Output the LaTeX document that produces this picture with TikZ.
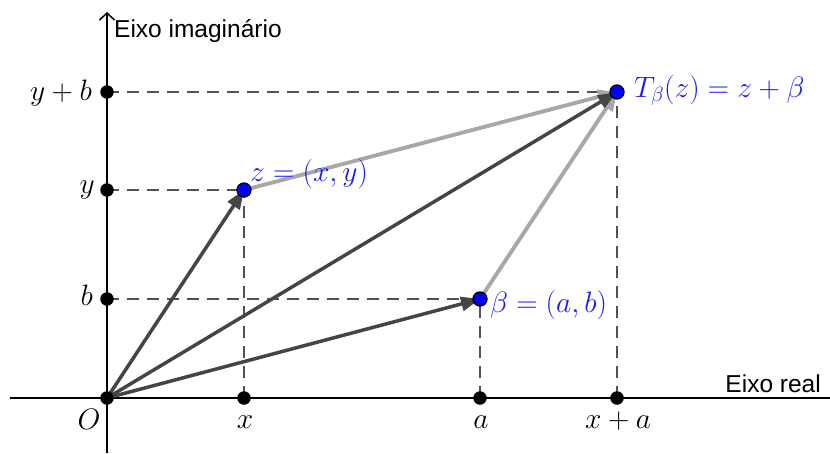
\RequirePackage{fix-cm}
\documentclass[tikz,border=0pt]{standalone}
\usepackage{fontspec}
\newfontfamily\axisfont{Liberation Sans}
\usetikzlibrary{arrows.meta}
\definecolor{ptblue}{RGB}{0,0,255}
\definecolor{lblblue}{RGB}{30,30,235}
\begin{document}
\begin{tikzpicture}[x=1pt,y=-1pt,
  axisline/.style={line width=1.7pt,draw=black},
  guide/.style={line width=1.9pt,draw=black!68,dash pattern=on 12pt off 8pt},
  vecdark/.style={line width=3.5pt,draw=black!73,-{Triangle[length=19pt,width=14pt]}},
  veclight/.style={line width=3.9pt,draw=black!34,-{Triangle[length=19pt,width=14pt]}},
  dot/.style={circle,fill=black,inner sep=0pt,minimum size=13.5pt},
  bdot/.style={circle,fill=ptblue,draw=black,line width=1.3pt,inner sep=0pt,minimum size=14pt},
  mlbl/.style={inner sep=0pt,font=\fontsize{29.5}{34}\selectfont},
  blbl/.style={mlbl,text=lblblue},
  axlbl/.style={inner sep=0pt,font=\axisfont\fontsize{24.5}{28}\selectfont}]
\useasboundingbox (0,0) rectangle (830,453);
% positions
\coordinate (pO) at (107,398);
\coordinate (px) at (244,398);
\coordinate (pa) at (480,398);
\coordinate (pxa) at (617,398);
\coordinate (py) at (107,190);
\coordinate (pb) at (107,299);
\coordinate (pyb) at (107,92);
\coordinate (pz) at (244,190);
\coordinate (pbeta) at (480,299);
\coordinate (pT) at (617,92);
\coordinate (xl) at (10,398);
\coordinate (xr) at (838,398);
\coordinate (yb) at (107,453);
\coordinate (yt) at (107,12);
% axes
\draw[axisline] (xl) -- (xr);
\draw[axisline,-{Straight Barb[length=7pt,width=15pt,line width=1.5pt]}] (yb) -- (yt);
% guides
\draw[guide] (pyb) -- (pT);
\draw[guide] (py) -- (pz);
\draw[guide] (pb) -- (pbeta);
\draw[guide] (px) -- (pz);
\draw[guide] (pa) -- (pbeta);
\draw[guide] (pxa) -- (pT);
% vectors
\draw[veclight] (pz) -- (pT);
\draw[veclight] (pbeta) -- (pT);
\draw[vecdark] (pO) -- (pz);
\draw[vecdark] (pO) -- (pT);
\draw[vecdark] (pO) -- (pbeta);
% points
\node[dot] (O) at (pO) {};
\node[dot] (X) at (px) {};
\node[dot] (A) at (pa) {};
\node[dot] (XA) at (pxa) {};
\node[dot] (Y) at (py) {};
\node[dot] (B) at (pb) {};
\node[dot] (YB) at (pyb) {};
\node[bdot] (Z) at (pz) {};
\node[bdot] (Beta) at (pbeta) {};
\node[bdot] (T) at (pT) {};
% labels
\node[axlbl,anchor=west] (lim) at (114,31) {Eixo imaginário};
\node[axlbl,anchor=east] (lre) at (821,384) {Eixo real};
\node[mlbl,anchor=base] (lO) at (89,429) {$O$};
\node[mlbl,anchor=base] (lx) at (245,428) {$x$};
\node[mlbl,anchor=base] (la) at (481,428) {$a$};
\node[mlbl,anchor=base] (lxa) at (618,428) {$x+a$};
\node[mlbl,anchor=base east] (lyb) at (92,100) {$y+b$};
\node[mlbl,anchor=base east] (ly) at (95,193) {$y$};
\node[mlbl,anchor=base east] (lb) at (93,305) {$b$};
\node[blbl,anchor=base west] (lz) at (250,181) {$z=(x,y)$};
\node[blbl,anchor=base west] (lbeta) at (490,312) {$\beta=(a,b)$};
\node[blbl,anchor=base west] (lT) at (634,97) {$T_\beta(z)=z+\beta$};
\end{tikzpicture}
\end{document}
